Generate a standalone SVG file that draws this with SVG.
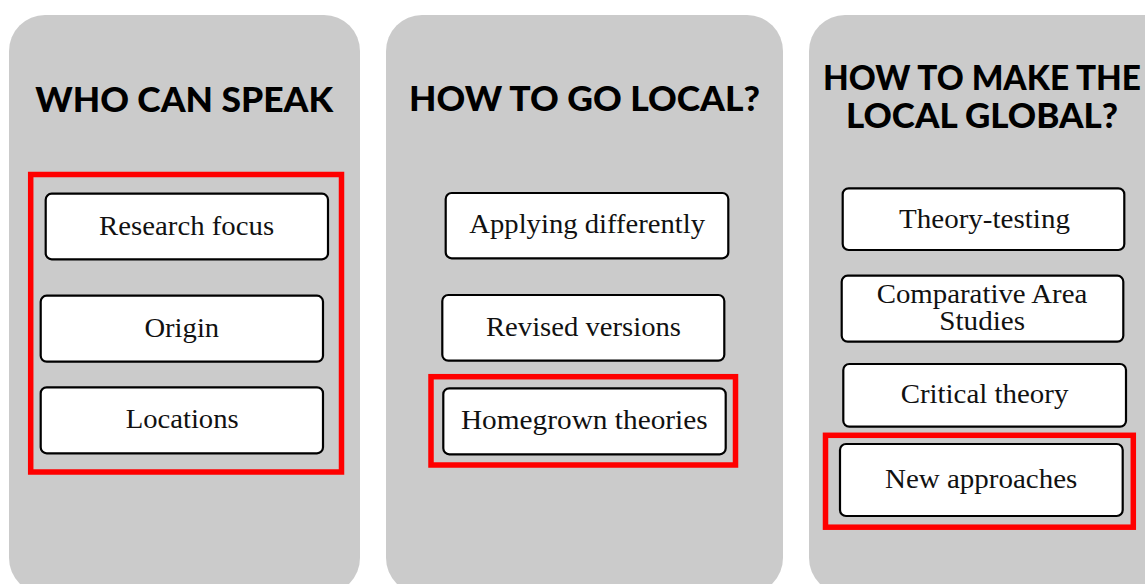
<svg xmlns="http://www.w3.org/2000/svg" width="1145" height="584" viewBox="0 0 1145 584">
<style>
.panel{fill:#cbcbcb;}
.title{font-family:Lato,"Liberation Sans",sans-serif;font-weight:900;font-size:35px;fill:#000;text-anchor:middle;}
.box{fill:#fff;stroke:#000;stroke-width:2.2;}
.lbl{font-family:"Liberation Serif","DejaVu Serif",serif;font-size:27px;fill:#111;text-anchor:middle;}
.hl{fill:none;stroke:#ff0000;stroke-width:5.5;}
</style>
<rect width="1145" height="584" fill="#fff"/>
<g id="panel-who">
<rect class="panel" x="9" y="15" width="351" height="579" rx="36"/>
<text class="title" x="184.2" y="111.5" textLength="298" lengthAdjust="spacingAndGlyphs">WHO CAN SPEAK</text>
</g>
<g id="panel-local">
<rect class="panel" x="386" y="15" width="397" height="579" rx="36"/>
<text class="title" x="584.5" y="111" textLength="351" lengthAdjust="spacingAndGlyphs">HOW TO GO LOCAL?</text>
</g>
<g id="panel-global">
<rect class="panel" x="809" y="15" width="400" height="579" rx="36"/>
<text class="title" x="982" y="90" textLength="318" lengthAdjust="spacingAndGlyphs">HOW TO MAKE THE</text>
<text class="title" x="982" y="128" textLength="272" lengthAdjust="spacingAndGlyphs">LOCAL GLOBAL?</text>
</g>
<g id="highlights">
<rect class="hl" x="30.7" y="174.5" width="310.8" height="297.5"/>
<rect class="hl" x="431" y="376.7" width="304.5" height="88.3"/>
<rect class="hl" x="825.5" y="435.3" width="307.8" height="91.9"/>
</g>
<g id="node-research-focus">
<rect class="box" x="45.7" y="193.7" width="282.3" height="65.6" rx="6"/>
<text class="lbl" x="186.6" y="235" textLength="175" lengthAdjust="spacingAndGlyphs">Research focus</text>
</g>
<g id="node-origin">
<rect class="box" x="40.7" y="295.7" width="282.3" height="66" rx="6"/>
<text class="lbl" x="181.8" y="337" textLength="74.7" lengthAdjust="spacingAndGlyphs">Origin</text>
</g>
<g id="node-locations">
<rect class="box" x="40.7" y="387.3" width="282.3" height="66" rx="6"/>
<text class="lbl" x="182.2" y="428" textLength="113" lengthAdjust="spacingAndGlyphs">Locations</text>
</g>
<g id="node-applying">
<rect class="box" x="445.7" y="193" width="282.6" height="65.3" rx="6"/>
<text class="lbl" x="587.2" y="233" textLength="235.7" lengthAdjust="spacingAndGlyphs">Applying differently</text>
</g>
<g id="node-revised">
<rect class="box" x="442.3" y="295" width="282" height="65.7" rx="6"/>
<text class="lbl" x="583.5" y="335.5" textLength="195" lengthAdjust="spacingAndGlyphs">Revised versions</text>
</g>
<g id="node-homegrown">
<rect class="box" x="443.3" y="388.3" width="282.4" height="66" rx="6"/>
<text class="lbl" x="584.3" y="428.5" textLength="246.7" lengthAdjust="spacingAndGlyphs">Homegrown theories</text>
</g>
<g id="node-theory-testing">
<rect class="box" x="842.7" y="188.3" width="281.6" height="61.7" rx="6"/>
<text class="lbl" x="984.5" y="227.5" textLength="171" lengthAdjust="spacingAndGlyphs">Theory-testing</text>
</g>
<g id="node-comparative">
<rect class="box" x="841.7" y="275.7" width="281.6" height="66" rx="6"/>
<text class="lbl" x="982" y="303.3" textLength="210.7" lengthAdjust="spacingAndGlyphs">Comparative Area</text>
<text class="lbl" x="982.2" y="330" textLength="85.7" lengthAdjust="spacingAndGlyphs">Studies</text>
</g>
<g id="node-critical">
<rect class="box" x="843.3" y="364" width="282.7" height="62.7" rx="6"/>
<text class="lbl" x="984.5" y="403.3" textLength="167.7" lengthAdjust="spacingAndGlyphs">Critical theory</text>
</g>
<g id="node-new">
<rect class="box" x="840" y="444" width="282.7" height="72" rx="6"/>
<text class="lbl" x="981.2" y="488.3" textLength="192.3" lengthAdjust="spacingAndGlyphs">New approaches</text>
</g>
<g id="connectors"></g>
</svg>
